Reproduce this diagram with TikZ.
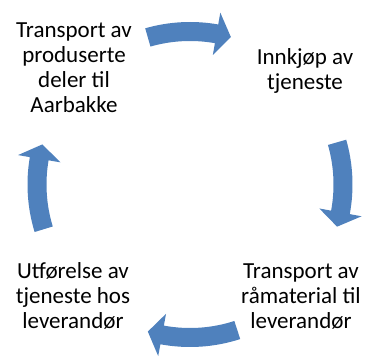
\documentclass[tikz,border=0pt]{standalone}
\usepackage{fontspec}
\setmainfont{Carlito}
\definecolor{arrowblue}{RGB}{79,129,189}
\newcommand\cyclearrow[2]{%
  \pgfmathsetmacro\hb{#2+5.5}%
  \fill[arr] ([shift={(#1:162.5pt)}]C) arc[start angle=#1, end angle=\hb, radius=162.5pt]
    -- ([shift={(\hb:174.5pt)}]C) -- ([shift={(#2:153pt)}]C)
    -- ([shift={(\hb:131.5pt)}]C) -- ([shift={(\hb:143.5pt)}]C)
    arc[start angle=\hb, end angle=#1, radius=143.5pt] -- cycle;}
\begin{document}
\begin{tikzpicture}[x=1pt,y=1pt,
  lbl/.style={align=center, inner sep=0pt, anchor=base, font=\fontsize{23}{25}\selectfont, text=black},
  arr/.style={fill=arrowblue, draw=none}]
\useasboundingbox (0,0) rectangle (366,362);
\coordinate (C) at (190,177.5);
\cyclearrow{106}{74.5}
\cyclearrow{16}{-16}
\cyclearrow{-72}{-106}
\cyclearrow{197}{164.8}
\node[lbl] (t1) at (74,249) {Transport av\\produserte\\deler til\\Aarbakke};
\node[lbl] (t2) at (305,272) {Innkjøp av\\tjeneste};
\node[lbl] (t3) at (301,34) {Transport av\\råmaterial til\\leverandør};
\node[lbl] (t4) at (73,34) {Utførelse av\\tjeneste hos\\leverandør};
\end{tikzpicture}
\end{document}
